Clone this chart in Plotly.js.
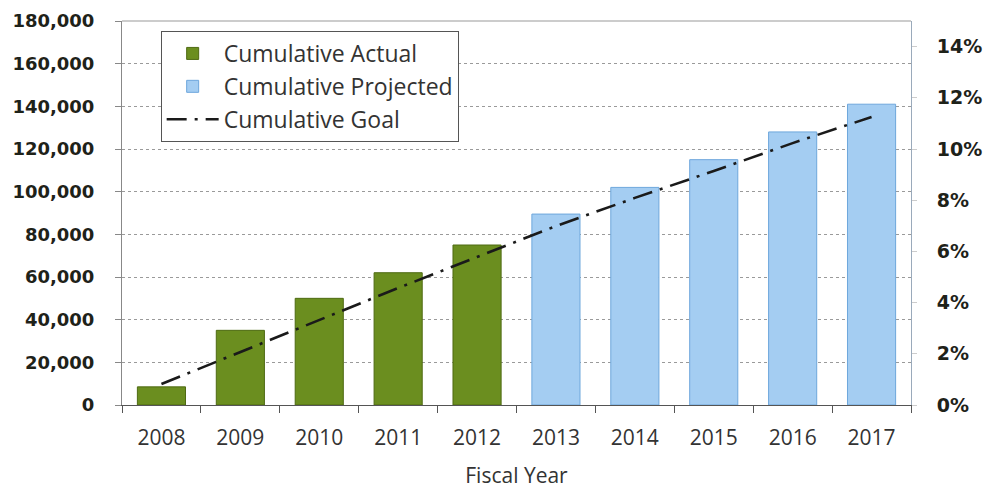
<!DOCTYPE html>
<html>
<head>
<meta charset="utf-8">
<script src="https://cdn.plot.ly/plotly-3.0.1.min.js"></script>
<style>html,body{margin:0;padding:0;background:#fff;}#chart{width:985px;height:489px;}</style>
</head>
<body>
<div id="chart"></div>
<script>
// Data
var years = ['2008','2009','2010','2011','2012','2013','2014','2015','2016','2017'];
var actualYears = ['2008','2009','2010','2011','2012'];
var actualValues = [8500, 35000, 50000, 62000, 75000];
var projectedYears = ['2013','2014','2015','2016','2017'];
var projectedValues = [89500, 102000, 115000, 128000, 141000];
var goalValues = [0.0082, 0.0207, 0.0332, 0.0457, 0.0578, 0.0699, 0.0809, 0.0914, 0.1023, 0.1125];
var leftTicks = [0, 20000, 40000, 60000, 80000, 100000, 120000, 140000, 160000, 180000];
var rightTicks = [0, 0.02, 0.04, 0.06, 0.08, 0.10, 0.12, 0.14];

var FONT = '"Open Sans", "Noto Sans", sans-serif';
var BOLDFONT = '"DejaVu Sans", sans-serif';

var traces = [
  {
    type: 'bar', name: 'Cumulative Actual', x: actualYears, y: actualValues,
    marker: {color: '#6b8e1f', line: {color: '#4e6a12', width: 1}},
    legendgroup: 'a', hoverinfo: 'x+y'
  },
  {
    type: 'bar', name: 'Cumulative Projected', x: projectedYears, y: projectedValues,
    marker: {color: '#a4cdf2', line: {color: '#6ea7dc', width: 1}},
    legendgroup: 'b', hoverinfo: 'x+y'
  },
  {
    type: 'scatter', mode: 'lines', name: 'Cumulative Goal', x: years, y: goalValues,
    yaxis: 'y2', line: {color: '#1a1a1a', width: 2.6, dash: '20px,8px,3px,8px'},
    legendgroup: 'c'
  }
];

var layout = {
  width: 985, height: 489,
  margin: {l: 122, r: 74, t: 21, b: 84},
  paper_bgcolor: '#ffffff', plot_bgcolor: '#ffffff',
  font: {family: FONT, color: '#222'},
  barmode: 'overlay', bargap: 0.39,
  showlegend: true,
  legend: {
    x: 0.049, y: 0.974, xanchor: 'left', yanchor: 'top',
    bgcolor: '#ffffff', bordercolor: '#555', borderwidth: 1,
    font: {family: FONT, size: 23, color: '#333'},
    traceorder: 'grouped', tracegroupgap: 0, itemwidth: 52
  },
  xaxis: {
    type: 'category', categoryorder: 'array', categoryarray: years,
    showline: true, linecolor: '#555', linewidth: 1,
    ticks: 'outside', tickson: 'boundaries', ticklen: 7, tickcolor: '#555',
    tickfont: {family: FONT, size: 21, color: '#333'},
    ticklabelstandoff: 14,
    showgrid: false, zeroline: false,
    title: {text: 'Fiscal Year', font: {family: FONT, size: 21, color: '#333'}, standoff: 18}
  },
  yaxis: {
    range: [0, 180000], tickvals: leftTicks, tickformat: ',d',
    showline: true, linecolor: '#888', linewidth: 1,
    ticks: 'outside', ticklen: 6, tickcolor: '#888',
    tickfont: {family: BOLDFONT, size: 18, color: '#1e2219', weight: 'bold'},
    ticklabelstandoff: 17,
    showgrid: true, gridcolor: '#9a9a9a', griddash: 'dot', gridwidth: 1,
    zeroline: false
  },
  yaxis2: {
    overlaying: 'y', side: 'right', range: [0, 0.15], tickvals: rightTicks, tickformat: '.0%',
    showline: true, linecolor: '#9aaabb', linewidth: 1,
    ticks: 'outside', ticklen: 5, tickcolor: '#ccc',
    tickfont: {family: BOLDFONT, size: 19, color: '#1e2219', weight: 'bold'},
    ticklabelstandoff: 16,
    showgrid: false, zeroline: false
  },
  shapes: [
    {type: 'line', xref: 'paper', yref: 'paper', x0: 0, x1: 1, y0: 1, y1: 1,
     line: {color: '#999', width: 1}}
  ]
};

Plotly.newPlot('chart', traces, layout, {displayModeBar: false, staticPlot: true});
</script>
</body>
</html>
